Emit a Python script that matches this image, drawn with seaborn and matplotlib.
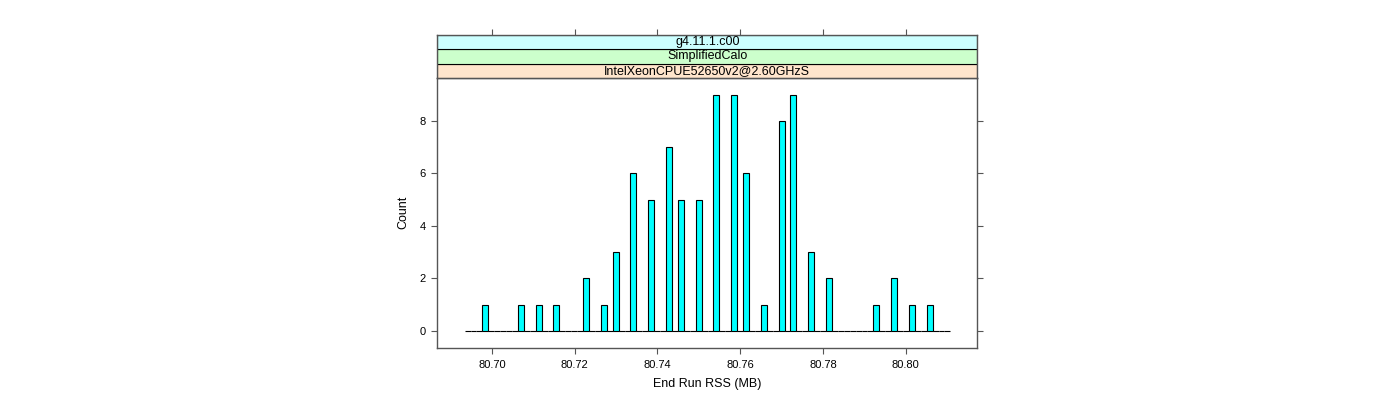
import numpy as np
import pandas as pd
import matplotlib
matplotlib.use("Agg")
import matplotlib.pyplot as plt
import seaborn as sns

# ---- data ----
rss_mb = [80.6984, 80.7071, 80.7113, 80.7156, 80.7228, 80.7270, 80.7299, 80.7342,
          80.7385, 80.7427, 80.7455, 80.7499, 80.7542, 80.7585, 80.7613, 80.7656,
          80.7699, 80.7728, 80.7771, 80.7814, 80.7928, 80.7971, 80.8014, 80.8057]
run_count = [1, 1, 1, 1, 2, 1, 3, 6,
             5, 7, 5, 5, 9, 9, 6, 1,
             8, 9, 3, 2, 1, 2, 1, 1]
x_ticks = [80.70, 80.72, 80.74, 80.76, 80.78, 80.80]
x_tick_labels = ["80.70", "80.72", "80.74", "80.76", "80.78", "80.80"]
y_ticks = [0, 2, 4, 6, 8]
y_tick_labels = ["0", "2", "4", "6", "8"]
strip_labels = ["IntelXeonCPUE52650v2@2.60GHzS", "SimplifiedCalo", "g4.11.1.c00"]  # bottom -> top
strip_colors = ["#ffe5cc", "#ccffcc", "#ccffff"]
x_label = "End Run RSS (MB)"
y_label = "Count"

# binning / limits (lattice-like histogram)
n_bins = 82
bin_range = (80.6934, 80.8108)
x_limits = (80.6868, 80.8173)
y_limits = (-0.63, 9.63)

sns.set_style("white")
plt.rcParams["font.family"] = ["Liberation Sans", "DejaVu Sans"]
plt.rcParams["text.color"] = "black"
plt.rcParams["axes.labelcolor"] = "black"
plt.rcParams["xtick.labelcolor"] = "black"
plt.rcParams["ytick.labelcolor"] = "black"

W, H = 1400, 400
fig = plt.figure(figsize=(W / 100, H / 100), dpi=100)


def fig_rect(x0, y0, x1, y1):
    return [x0 / W, 1 - y1 / H, (x1 - x0) / W, (y1 - y0) / H]


ax = fig.add_axes(fig_rect(437.3, 78.0, 977.3, 347.5))
sax = fig.add_axes(fig_rect(437.3, 34.7, 977.3, 78.0))

df = pd.DataFrame({"rss": rss_mb, "n": run_count})
sns.histplot(data=df, x="rss", weights="n", bins=n_bins, binrange=bin_range,
             color="#00ffff", edgecolor="black", linewidth=0.8, alpha=1.0, ax=ax)

axis_col = "#555555"
ax.set_xlim(*x_limits)
ax.set_ylim(*y_limits)
ax.set_xticks(x_ticks)
ax.set_xticklabels(x_tick_labels)
ax.set_yticks(y_ticks)
ax.set_yticklabels(y_tick_labels)
ax.tick_params(axis="x", bottom=True, top=False, direction="out", length=4,
               width=0.8, color=axis_col, labelsize=8, pad=5, labelcolor="black")
ax.tick_params(axis="y", left=True, right=True, labelright=False, direction="out",
               length=4, width=0.8, color=axis_col, labelsize=8, pad=4.5, labelcolor="black")
for s in ax.spines.values():
    s.set_visible(True)
    s.set_color(axis_col)
    s.set_linewidth(1.0)
ax.set_xlabel(x_label, fontsize=9, labelpad=6, color="black")
ax.set_ylabel(y_label, fontsize=9, labelpad=7, color="black")
ax.grid(False)

# strips
sax.set_xlim(*x_limits)
sax.set_ylim(0, len(strip_labels))
for i, (lab, col) in enumerate(zip(strip_labels, strip_colors)):
    sax.axhspan(i, i + 1, facecolor=col, edgecolor="black", linewidth=0.8)
    sax.text(0.5, i + 0.5, lab, transform=sax.get_yaxis_transform(),
             ha="center", va="center", fontsize=9, color="black")
sax.set_xticks(x_ticks)
sax.set_yticks([])
sax.tick_params(axis="x", top=True, bottom=False, labelbottom=False, labeltop=False,
                direction="out", length=4, width=0.8, color=axis_col)
for s in sax.spines.values():
    s.set_color(axis_col)
    s.set_linewidth(1.0)

fig.savefig("out.png", dpi=100)
